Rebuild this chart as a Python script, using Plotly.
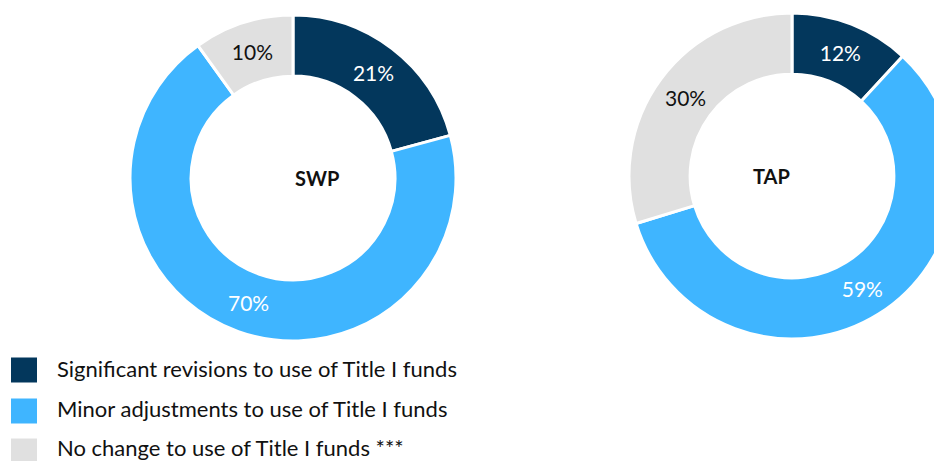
import plotly.graph_objects as go

categories = ["Significant revisions to use of Title I funds",
              "Minor adjustments to use of Title I funds",
              "No change to use of Title I funds ***"]
swp_values = [21, 70, 10]
tap_values = [12, 59, 30]
colors = ["#03375C", "#3FB5FF", "#E0E0E0"]
text_colors = ["white", "white", "#111111"]

OFF = 8  # page body margin
W, H = 950, 453
FONT = "Lato"

def X(px):
    return (px - OFF) / W

def Y(py):
    return 1 - (py - OFF) / H

def px_domain(cx, cy, r):
    return dict(x=[X(cx - r), X(cx + r)], y=[Y(cy + r), Y(cy - r)])

fig = go.Figure()
for name, vals, (cx, cy) in [("SWP", swp_values, (293, 178)), ("TAP", tap_values, (792, 176))]:
    fig.add_trace(go.Pie(
        labels=categories, values=vals, text=[f"{v}%" for v in vals],
        textinfo="text", textposition="inside", insidetextorientation="horizontal",
        hole=0.625, sort=False, direction="clockwise", rotation=0,
        marker=dict(colors=colors, line=dict(color="white", width=3)),
        textfont=dict(family=FONT, size=21, color=text_colors),
        domain=px_domain(cx, cy, 163), showlegend=False, hoverinfo="label+text",
    ))
    fig.add_annotation(x=X(cx), y=Y(cy), xref="paper", yref="paper",
                       text=f"<b>{name}</b>", showarrow=False,
                       font=dict(family=FONT, size=20, color="#111111"))

# custom legend
sq_centers = [370, 411, 451]
txt_centers = [368, 408, 447]
for lab, col, ys, yt in zip(categories, colors, sq_centers, txt_centers):
    fig.add_shape(type="rect", xref="paper", yref="paper",
                  x0=X(11), x1=X(37), y0=Y(ys + 12.5), y1=Y(ys - 12.5),
                  fillcolor=col, line=dict(width=0))
    fig.add_annotation(x=X(55), y=Y(yt), xref="paper", yref="paper",
                       text=lab, showarrow=False, xanchor="left", yanchor="middle",
                       font=dict(family=FONT, size=22, color="#111111"))

fig.update_layout(width=W, height=H, margin=dict(l=0, r=0, t=0, b=0),
                  paper_bgcolor="white", plot_bgcolor="white")
fig.write_html("out.html")
